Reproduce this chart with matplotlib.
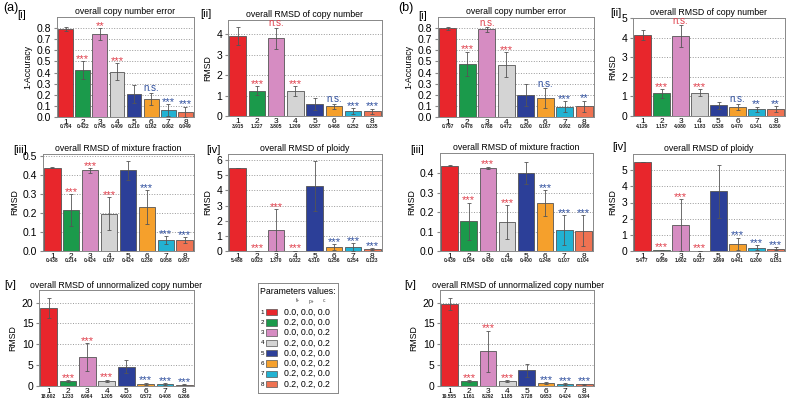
import numpy as np
import matplotlib
matplotlib.use('Agg')
import matplotlib.pyplot as plt
from matplotlib.patches import Rectangle

plt.rcParams['font.family'] = ['Liberation Sans', 'DejaVu Sans']

# data
ids = [1, 2, 3, 4, 5, 6, 7, 8]
colors = ['#e8262c', '#1b9a4b', '#d68cc2', '#d4d4d4', '#2c3f98', '#f5a02c', '#22b2d2', '#ef7252']
params = ['0.0, 0.0, 0.0', '0.2, 0.0, 0.0', '0.0, 0.0, 0.2', '0.2, 0.0, 0.2',
          '0.0, 0.2, 0.0', '0.0, 0.2, 0.2', '0.2, 0.2, 0.0', '0.2, 0.2, 0.2']

a1_val = [0.794, 0.422, 0.745, 0.409, 0.210, 0.162, 0.062, 0.049]
a1_err = [0.02, 0.08, 0.055, 0.075, 0.08, 0.055, 0.055, 0.045]
a1_sig = ['', '***', '**', '***', '', 'n.s.', '***', '***']

a2_val = [3.915, 1.227, 3.805, 1.209, 0.587, 0.468, 0.252, 0.235]
a2_err = [0.42, 0.22, 0.52, 0.24, 0.27, 0.13, 0.13, 0.13]
a2_sig = ['', '***', 'n.s.', '***', '', 'n.s.', '***', '***']

a3_val = [0.438, 0.214, 0.424, 0.197, 0.424, 0.230, 0.058, 0.057]
a3_err = [0.003, 0.085, 0.012, 0.085, 0.05, 0.09, 0.02, 0.017]
a3_sig = ['', '***', '***', '***', '', '***', '***', '***']

a4_val = [5.488, 0.023, 1.370, 0.022, 4.310, 0.256, 0.254, 0.123]
a4_err = [0.0, 0.0, 1.38, 0.0, 1.65, 0.2, 0.28, 0.07]
a4_sig = ['', '***', '***', '***', '', '***', '***', '***']

a5_val = [18.602, 1.233, 6.964, 1.205, 4.603, 0.572, 0.408, 0.266]
a5_err = [2.4, 0.2, 3.35, 0.3, 1.55, 0.25, 0.25, 0.1]
a5_sig = ['', '***', '***', '***', '', '***', '***', '***']

b1_val = [0.797, 0.478, 0.788, 0.472, 0.200, 0.167, 0.092, 0.098]
b1_err = [0.01, 0.11, 0.02, 0.11, 0.1, 0.09, 0.048, 0.05]
b1_sig = ['', '***', 'n.s.', '***', '', 'n.s.', '***', '**']

b2_val = [4.129, 1.157, 4.080, 1.183, 0.538, 0.470, 0.341, 0.350]
b2_err = [0.25, 0.22, 0.55, 0.17, 0.16, 0.14, 0.14, 0.14]
b2_sig = ['', '***', 'n.s.', '***', '', 'n.s.', '**', '**']

b3_val = [0.439, 0.154, 0.430, 0.149, 0.400, 0.248, 0.107, 0.104]
b3_err = [0.003, 0.095, 0.005, 0.087, 0.057, 0.067, 0.078, 0.08]
b3_sig = ['', '***', '***', '***', '', '***', '***', '***']

b4_val = [5.477, 0.059, 1.602, 0.027, 3.699, 0.441, 0.200, 0.151]
b4_err = [0.0, 0.02, 1.6, 0.0, 1.63, 0.38, 0.15, 0.1]
b4_sig = ['', '***', '***', '***', '', '***', '***', '***']

b5_val = [19.555, 1.161, 8.292, 1.185, 3.728, 0.653, 0.424, 0.394]
b5_err = [1.45, 0.25, 5.0, 0.3, 1.5, 0.25, 0.18, 0.18]
b5_sig = ['', '***', '***', '***', '', '***', '***', '***']

W, H = 796, 400
fig = plt.figure(figsize=(W / 100, H / 100), dpi=100)


def px_axes(l, t, r, b):
    return fig.add_axes([l / W, 1 - b / H, (r - l) / W, (b - t) / H])


def panel(rect, vals, errs, sig, title, ylabel, ylim, yticks, fmt):
    ax = px_axes(*rect)
    ax.bar(ids, vals, width=0.86, color=colors, edgecolor='#555555', linewidth=0.6, zorder=2)
    ax.errorbar(ids, vals, yerr=errs, fmt='none', ecolor='#555555', elinewidth=0.6,
                capsize=1.5, capthick=0.6, zorder=3)
    for i, s in enumerate(sig):
        if s:
            c = '#e0404c' if i < 4 else '#2f4f9e'
            if s == 'n.s.':
                ax.annotate(s, (ids[i], vals[i] + errs[i]), xytext=(0, 1.2), textcoords='offset points',
                            ha='center', va='baseline', color=c, fontsize=7, zorder=4)
            else:
                ax.annotate(s, (ids[i], vals[i] + errs[i]), xytext=(0, -0.6), textcoords='offset points',
                            ha='center', va='baseline', color=c, fontsize=8, zorder=4)
        ax.annotate(format(vals[i], '.3f'), (ids[i], 0), xycoords=('data', 'axes fraction'),
                    xytext=(0, -7.2), textcoords='offset points', ha='center', va='center',
                    fontsize=3.6, fontweight='bold', color='#222222', annotation_clip=False)
    ax.set_xlim(0.5, 8.5)
    ax.set_ylim(*ylim)
    ax.set_yticks(yticks)
    ax.set_yticklabels([format(v, fmt) for v in yticks])
    ax.set_xticks(ids)
    ax.tick_params(axis='x', length=0, labelsize=6, pad=1.2)
    ax.tick_params(axis='y', length=2, labelsize=7.5, pad=2, color='#888888')
    ax.yaxis.grid(True, linestyle=':', color='#999999', linewidth=0.7, zorder=0)
    ax.set_axisbelow(True)
    for sp in ax.spines.values():
        sp.set_color('#888888')
        sp.set_linewidth(0.7)
    if title:
        ax.set_title(title, fontsize=6.3, pad=2.5)
    ax.set_ylabel(ylabel, fontsize=6.3, labelpad=3)
    return ax


panel((57, 17, 194, 117), a1_val, a1_err, a1_sig, 'overall copy number error', '1-Accuracy',
      (0, 0.9), np.arange(0, 0.85, 0.1), '.1f')
panel((228, 20, 382, 116), a2_val, a2_err, a2_sig, 'overall RMSD of copy number', 'RMSD',
      (0, 4.7), [0, 1, 2, 3, 4], '.0f')
panel((438, 17, 594, 117), b1_val, b1_err, b1_sig, 'overall copy number error', '1-Accuracy',
      (0, 0.9), np.arange(0, 0.85, 0.1), '.1f')
panel((633, 18, 785, 116), b2_val, b2_err, b2_sig, 'overall RMSD of copy number', 'RMSD',
      (0, 5), [0, 1, 2, 3, 4, 5], '.0f')

panel((43, 154, 194, 251), a3_val, a3_err, a3_sig, 'overall RMSD of mixture fraction', 'RMSD',
      (0, 0.51), np.arange(0, 0.55, 0.1), '.1f')
panel((228, 154, 382, 251), a4_val, a4_err, a4_sig, 'overall RMSD of ploidy', 'RMSD',
      (0, 6.4), [0, 1, 2, 3, 4, 5, 6], '.0f')
panel((440, 153, 593, 251), b3_val, b3_err, b3_sig, 'overall RMSD of mixture fraction', 'RMSD',
      (0, 0.505), np.arange(0, 0.45, 0.1), '.1f')
panel((633, 154, 785, 251), b4_val, b4_err, b4_sig, 'overall RMSD of ploidy', 'RMSD',
      (0, 6.0), [0, 1, 2, 3, 4, 5], '.0f')

panel((39, 290, 194, 386), a5_val, a5_err, a5_sig, '', 'RMSD',
      (0, 23), [0, 5, 10, 15, 20], '.0f')
panel((440, 290, 594, 386), b5_val, b5_err, b5_sig, '', 'RMSD',
      (0, 23), [0, 5, 10, 15, 20], '.0f')
fig.text(116 / W, 1 - 285 / H, 'overall RMSD of unnormalized copy number', fontsize=6.3,
         ha='center', va='center')
fig.text(518 / W, 1 - 285 / H, 'overall RMSD of unnormalized copy number', fontsize=6.3,
         ha='center', va='center')

# panel labels
labels = [('(a)', 3, 8, 9), ('(b)', 398, 8, 9),
          ('[i]', 17, 15, 8), ('[ii]', 200, 14, 8), ('[i]', 418, 16, 8), ('[ii]', 610, 13, 8),
          ('[iii]', 13, 150, 8), ('[iv]', 206, 150, 8), ('[iii]', 410, 150, 8), ('[iv]', 612, 147, 8),
          ('[v]', 4, 285, 8), ('[v]', 404, 285, 8)]
for s, x, y, fs in labels:
    fig.text(x / W, 1 - y / H, s, fontsize=fs, ha='left', va='center')

# legend box
lg = px_axes(258, 283, 338, 393)
lg.set_xlim(0, 80)
lg.set_ylim(110, 0)
lg.set_xticks([])
lg.set_yticks([])
for sp in lg.spines.values():
    sp.set_color('#888888')
    sp.set_linewidth(0.7)
lg.text(2.5, 8, 'Parameters values:', fontsize=6.3, va='center', ha='left')
for x, s in [(40, 'f+'), (53, 'p+'), (66, 'c')]:
    lg.text(x, 18, s, fontsize=3.5, va='center', ha='center', color='#444444')
for i in range(8):
    y = 29 + i * 10.3
    lg.text(4.5, y, str(ids[i]), fontsize=4.5, va='center', ha='center')
    lg.add_patch(Rectangle((8, y - 3.2), 11, 6.4, facecolor=colors[i], edgecolor='#555555', linewidth=0.5))
    lg.text(26, y, params[i], fontsize=6.3, va='center', ha='left')

fig.savefig('out.png', dpi=100)
